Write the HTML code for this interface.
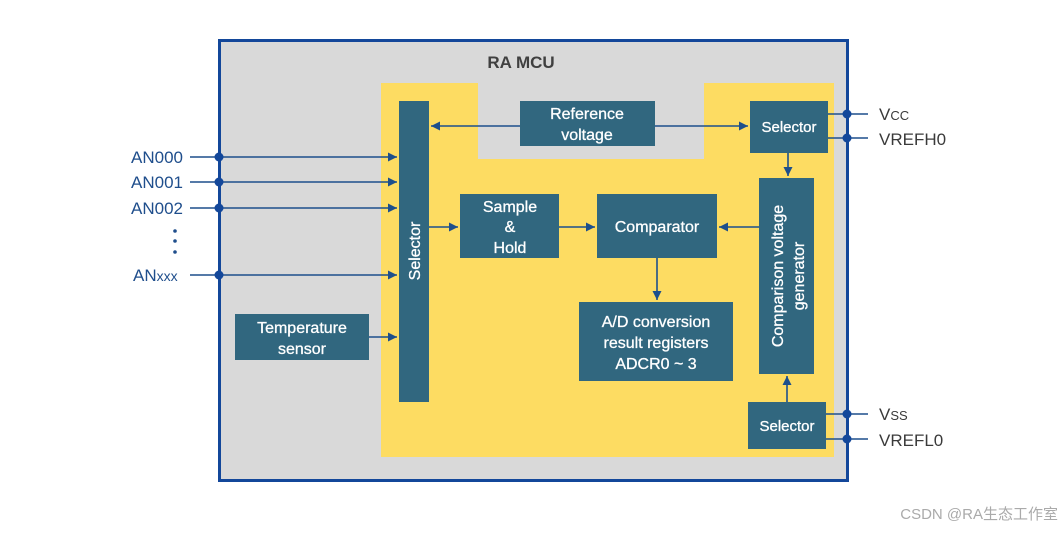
<!DOCTYPE html>
<html><head><meta charset="utf-8"><style>
body{margin:0;background:#fff;width:1063px;height:530px;overflow:hidden}
svg text{font-family:"Liberation Sans",Arial,sans-serif}
</style></head><body>
<svg width="1063" height="530" viewBox="0 0 1063 530" xmlns="http://www.w3.org/2000/svg">
<defs><marker id="a" viewBox="0 0 10 10" refX="10" refY="5" markerWidth="9" markerHeight="9" markerUnits="userSpaceOnUse" orient="auto"><path d="M0,0L10,5L0,10z" fill="#1d4f8c"/></marker></defs>
<rect x="219.5" y="40.5" width="628" height="440" fill="#d9d9d9" stroke="#13479a" stroke-width="3"/>
<path d="M381,83H478V159H704V83H834V457H381Z" fill="#fddc62"/>
<text x="521" y="68" font-size="17" font-weight="bold" fill="#404040" text-anchor="middle">RA MCU</text>
<g fill="#31677f">
<rect x="399" y="101" width="30" height="301"/>
<rect x="520" y="101" width="135" height="45"/>
<rect x="750" y="101" width="78" height="52"/>
<rect x="460" y="194" width="99" height="64"/>
<rect x="597" y="194" width="120" height="64"/>
<rect x="759" y="178" width="55" height="196"/>
<rect x="579" y="302" width="154" height="79"/>
<rect x="235" y="314" width="134" height="46"/>
<rect x="748" y="402" width="78" height="47"/>
</g>
<g stroke="#1d4f8c" stroke-width="1.6" fill="none">
<line x1="190" y1="157" x2="397" y2="157" marker-end="url(#a)"/>
<line x1="190" y1="182" x2="397" y2="182" marker-end="url(#a)"/>
<line x1="190" y1="208" x2="397" y2="208" marker-end="url(#a)"/>
<line x1="190" y1="275" x2="397" y2="275" marker-end="url(#a)"/>
<line x1="369" y1="337" x2="397" y2="337" marker-end="url(#a)"/>
<line x1="520" y1="126" x2="431" y2="126" marker-end="url(#a)"/>
<line x1="655" y1="126" x2="748" y2="126" marker-end="url(#a)"/>
<line x1="429" y1="227" x2="458" y2="227" marker-end="url(#a)"/>
<line x1="559" y1="227" x2="595" y2="227" marker-end="url(#a)"/>
<line x1="759" y1="227" x2="719" y2="227" marker-end="url(#a)"/>
<line x1="657" y1="258" x2="657" y2="300" marker-end="url(#a)"/>
<line x1="788" y1="153" x2="788" y2="176" marker-end="url(#a)"/>
<line x1="787" y1="402" x2="787" y2="376" marker-end="url(#a)"/>
<line x1="828" y1="114" x2="868" y2="114"/>
<line x1="828" y1="138" x2="868" y2="138"/>
<line x1="826" y1="414" x2="868" y2="414"/>
<line x1="826" y1="439" x2="868" y2="439"/>
</g>
<g fill="#13479a">
<circle cx="219" cy="157" r="4.5"/><circle cx="219" cy="182" r="4.5"/><circle cx="219" cy="208" r="4.5"/><circle cx="219" cy="275" r="4.5"/>
<circle cx="847" cy="114" r="4.5"/><circle cx="847" cy="138" r="4.5"/><circle cx="847" cy="414" r="4.5"/><circle cx="847" cy="439" r="4.5"/>
</g>
<g font-size="17" fill="#1f4e8c">
<text x="131" y="163">AN000</text><text x="131" y="188">AN001</text><text x="131" y="214">AN002</text>
<text x="133" y="281">AN<tspan font-size="14">xxx</tspan></text>
</g>
<g fill="#1f4e8c"><circle cx="175" cy="231" r="1.8"/><circle cx="175" cy="241" r="1.8"/><circle cx="175" cy="252" r="1.8"/></g>
<g font-size="17" fill="#3a3a3a">
<text x="879" y="120">V<tspan font-size="13">CC</tspan></text>
<text x="879" y="145">VREFH0</text>
<text x="879" y="420">V<tspan font-size="13">SS</tspan></text>
<text x="879" y="446">VREFL0</text>
</g>
<g font-size="16" fill="#fff" text-anchor="middle" stroke="#fff" stroke-width="0.3">
<text x="587" y="119">Reference</text><text x="587" y="140">voltage</text>
<text x="789" y="132" font-size="15">Selector</text>
<text x="510" y="212">Sample</text><text x="510" y="232">&amp;</text><text x="510" y="253">Hold</text>
<text x="657" y="232">Comparator</text>
<text x="656" y="327">A/D conversion</text><text x="656" y="348">result registers</text><text x="656" y="369">ADCR0 ~ 3</text>
<text x="302" y="333">Temperature</text><text x="302" y="354">sensor</text>
<text x="787" y="431" font-size="15">Selector</text>
<text transform="translate(420,251) rotate(-90)">Selector</text>
<text transform="translate(783,276) rotate(-90)">Comparison voltage</text>
<text transform="translate(804,276) rotate(-90)">generator</text>
</g>
<text x="1058" y="519" font-size="15" fill="#aaa" text-anchor="end" style="font-family:'Liberation Sans','Noto Sans CJK SC',sans-serif">CSDN @RA生态工作室</text>
</svg>
</body></html>
